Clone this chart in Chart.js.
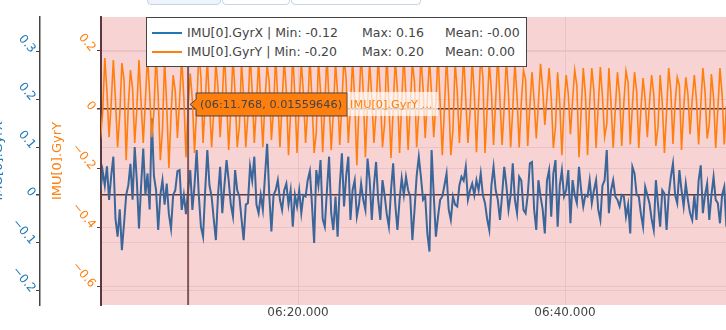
<!DOCTYPE html>
<html lang="en">
<head>
<meta charset="UTF-8">
<title>IMU[0] gyro</title>
<style>
  body {
    margin: 0;
    width: 726px;
    height: 330px;
    overflow: hidden;
    position: relative;
    background: #fff;
    font-family: 'DejaVu Sans', Verdana, sans-serif;
  }
  #wrap { position: absolute; left: -12px; top: 0; width: 738px; height: 330px; }
  .tab {
    position: absolute; top: -20px; height: 23px;
    border: 1px solid #c6d4ea; border-radius: 4px; background: #fff;
  }
  .tab.on { background: #eef4fc; }
  #legend {
    position: absolute; left: 146px; top: 17px; width: 381px; height: 50px;
    box-sizing: border-box; background: #fff; border: 1px solid #444;
    font-size: 12.5px; color: #444;
  }
  #legend .row { position: absolute; left: 0; width: 100%; height: 18px; }
  #legend .swatch { position: absolute; left: 5px; top: 8px; width: 30px; height: 2px; }
  #legend .txt { position: absolute; top: 0; line-height: 18px; white-space: pre; }
</style>
<script src="https://cdn.jsdelivr.net/npm/chart.js"></script>
</head>
<body>
<div class="tab on" style="left:147px;width:72px"></div>
<div class="tab" style="left:222px;width:66px"></div>
<div class="tab" style="left:291px;width:128px"></div>
<div id="wrap"><canvas id="gyro" width="738" height="330"></canvas></div>
<div id="legend"></div>

<script>
// sample clock (seconds), one sample every 160 ms
const t0 = 364.888;
const dt = 0.16;

const seriesNames = ['IMU[0].GyrX', 'IMU[0].GyrY'];
const seriesColors = ['#1f77b4', '#ff7f0e'];
const statMin = ['-0.12', '-0.20'];
const statMax = ['0.16', '0.20'];
const statMean = ['-0.00', '0.00'];

const gyrX = [
  0.02, 0.04, 0.01, 0.05, 0.02, 0.06, -0.01, 0.04, 0.08, -0.05,
  -0.087, -0.03, -0.115, -0.06, 0.0, 0.02, 0.065, -0.01, 0.10, 0.03,
  -0.07, 0.02, 0.097, 0.0, 0.045, -0.03, 0.16, 0.04, 0.01, -0.073,
  0.0, 0.031, -0.02, 0.024, -0.04, -0.07, 0.0, 0.01, 0.05, 0.052,
  -0.031, 0.0, -0.04, 0.01, 0.052, -0.031, 0.02, 0.094, 0.0, -0.066,
  -0.087, 0.01, 0.094, 0.02, -0.003, -0.05, -0.094, 0.0, 0.059, -0.038,
  0.02, 0.073, 0.03, -0.02, -0.045, 0.052, 0.01, -0.003, -0.05, -0.094,
  -0.02, -0.017, 0.06, 0.03, 0.08, -0.02, -0.038, 0.0, -0.031, 0.04,
  0.107, 0.0, -0.076, 0.0, 0.01, 0.031, -0.01, -0.031, 0.01, 0.024,
  -0.02, 0.01, -0.066, 0.0, -0.024, 0.01, -0.038, 0.0, -0.003, 0.031,
  0.05, -0.02, -0.1, 0.052, 0.02, 0.073, -0.05, -0.066, 0.01, 0.08,
  -0.038, -0.073, -0.003, -0.087, 0.02, 0.087, -0.024, 0.04, 0.08, -0.052,
  0.01, 0.031, -0.045, -0.02, 0.024, -0.01, -0.031, 0.076, 0.031, -0.052,
  0.02, 0.069, -0.01, -0.052, 0.031, 0.0, -0.04, -0.066, 0.01, 0.066,
  -0.02, -0.073, -0.01, 0.035, 0.0, 0.038, 0.01, -0.003, -0.094, -0.031,
  0.04, 0.08, 0.038, -0.01, -0.003, -0.08, -0.118, 0.094, 0.0, -0.087,
  -0.045, -0.01, -0.003, 0.02, 0.045, -0.03, -0.052, -0.003, -0.02, -0.024,
  0.02, 0.038, 0.03, 0.059, -0.01, 0.01, 0.024, 0.0, 0.031, 0.01,
  0.045, 0.0, -0.017, -0.05, -0.073, 0.02, 0.059, 0.01, -0.01, -0.052,
  0.0, 0.059, 0.02, -0.031, 0.0, 0.066, -0.01, -0.038, 0.038, 0.03,
  -0.031, -0.038, 0.0, 0.066, 0.069, -0.03, -0.073, 0.031, -0.003, -0.03,
  -0.08, 0.03, 0.052, -0.045, 0.045, 0.073, -0.066, 0.02, 0.052, -0.003,
  0.01, 0.052, -0.059, 0.031, 0.0, -0.017, 0.059, 0.01, -0.024, 0.0,
  -0.003, 0.031, -0.017, 0.01, 0.031, -0.03, -0.052, 0.02, 0.031, 0.094,
  -0.038, 0.01, 0.031, -0.003, -0.01, -0.024, 0.0, -0.003, -0.045, -0.02,
  -0.08, 0.059, 0.045, 0.0, -0.003, -0.04, -0.066, 0.017, 0.0, -0.017,
  -0.05, -0.073, 0.031, -0.02, -0.066, 0.01, 0.003, -0.073, 0.0, 0.038,
  0.066, 0.0, -0.017, 0.052, 0.01, -0.024, 0.024, -0.01, -0.038, -0.052,
  0.0, -0.052, 0.03, 0.062, -0.038, 0.0, 0.024, -0.052, 0.0, 0.038,
  -0.01, -0.017, -0.059, 0.0, 0.017, -0.066, 0.0
];

const gyrY = [
  0.15, 0.04, -0.10, -0.01, 0.173, 0.06, -0.095, 0.02,
  0.166, 0.03, -0.129, -0.02, 0.156, 0.10, -0.173, 0.01,
  0.132, 0.07, -0.115, 0.0, 0.166, 0.02, -0.115, 0.03,
  0.18, 0.05, -0.095, -0.01, 0.19, 0.04, -0.173, -0.07,
  0.17, 0.01, -0.20, -0.02, 0.115, 0.06, -0.098, 0.03,
  0.175, 0.04, -0.163, 0.01559646, 0.12, 0.03, -0.149, 0.0,
  0.19, 0.11, -0.115, 0.02, 0.17, 0.02, -0.129, -0.01,
  0.16, 0.07, -0.095, 0.03, 0.20, 0.03, -0.139, 0.0,
  0.18, 0.05, -0.129, -0.06, 0.16, 0.04, -0.129, -0.02,
  0.19, 0.06, -0.115, 0.01, 0.17, 0.02, -0.129, 0.03,
  0.15, 0.09, -0.105, 0.0, 0.18, 0.03, -0.129, 0.02,
  0.17, 0.06, -0.156, -0.01, 0.19, 0.04, -0.149, 0.02,
  0.16, 0.05, -0.115, 0.0, 0.18, 0.03, -0.149, -0.08,
  0.17, 0.06, -0.146, 0.01, 0.19, 0.02, -0.139, -0.01,
  0.16, 0.05, -0.122, 0.02, 0.18, 0.10, -0.115, 0.0,
  0.17, 0.03, -0.19, 0.01, 0.19, 0.06, -0.163, 0.02,
  0.16, 0.04, -0.115, -0.01, 0.18, 0.05, -0.129, -0.05,
  0.20, 0.02, -0.166, 0.0, 0.17, 0.06, -0.149, 0.02,
  0.19, 0.04, -0.139, 0.01, 0.16, 0.09, -0.129, -0.01,
  0.18, 0.07, -0.098, 0.03, 0.17, 0.05, -0.095, 0.02,
  0.19, 0.02, -0.156, 0.0, 0.18, 0.04, -0.156, -0.07,
  0.16, 0.06, -0.115, 0.02, 0.19, 0.03, -0.115, -0.01,
  0.17, 0.05, -0.146, 0.02, 0.18, 0.11, -0.149, 0.0,
  0.16, 0.06, -0.122, 0.03, 0.19, 0.03, -0.122, 0.01,
  0.17, 0.05, -0.129, 0.0, 0.16, 0.04, -0.13, 0.02,
  0.132, 0.10, -0.125, 0.01, 0.125, 0.03, -0.10, 0.02,
  0.153, 0.07, -0.054, 0.04, 0.139, 0.04, -0.132, -0.06,
  0.125, 0.02, -0.156, 0.01, 0.115, 0.05, -0.085, 0.03,
  0.132, 0.08, -0.163, -0.01, 0.139, 0.05, -0.156, 0.02,
  0.139, 0.06, -0.132, 0.01, 0.142, 0.04, -0.095, -0.05,
  0.139, 0.02, -0.132, 0.0, 0.125, 0.05, -0.125, 0.02,
  0.129, 0.09, -0.12, 0.01, 0.125, 0.06, -0.132, 0.0,
  0.105, 0.03, -0.095, 0.02, 0.115, 0.05, -0.125, -0.06,
  0.115, 0.02, -0.149, -0.01, 0.139, 0.06, -0.118, 0.02,
  0.108, 0.08, -0.139, 0.0, 0.108, 0.05, -0.085, 0.03,
  0.115, 0.03, -0.12, 0.01, 0.139, 0.06, -0.10, -0.05,
  0.119, 0.04, -0.132, 0.0, 0.139, 0.05, -0.12, 0.01,
  0.129
];

// hovered sample on GyrY
const hoverIndex = 43;

const times = gyrX.map((_, i) => t0 + i * dt);

function fmtTime(s) {
  const m = Math.floor(s / 60);
  const sec = (s - m * 60).toFixed(3);
  return String(m).padStart(2, '0') + ':' + sec.padStart(6, '0');
}
function fmtTick(v, dec) {
  if (Math.abs(v) < 1e-9) return '0';
  const s = Math.abs(v).toFixed(dec);
  return v < 0 ? '\u2212' + s : s;
}
const isZero = c => Math.abs(c.tick.value) < 1e-9;

// legend box
const legend = document.getElementById('legend');
seriesNames.forEach((name, i) => {
  const row = document.createElement('div');
  row.className = 'row';
  row.style.top = (6 + i * 19) + 'px';
  row.innerHTML =
    '<div class="swatch" style="background:' + seriesColors[i] + '"></div>' +
    '<span class="txt" style="left:40px">' + name + ' | Min: ' + statMin[i] + '</span>' +
    '<span class="txt" style="left:215px">Max: ' + statMax[i] + '</span>' +
    '<span class="txt" style="left:298px">Mean: ' + statMean[i] + '</span>';
  legend.appendChild(row);
});

const plotBg = {
  id: 'plotBg',
  beforeDraw(chart) {
    const {ctx, chartArea: a} = chart;
    ctx.save();
    ctx.fillStyle = '#f8d3d4';
    ctx.fillRect(a.left, a.top, a.right - a.left, a.bottom - a.top);
    ctx.restore();
  }
};

// spike line + hover label for the selected GyrY sample
const hoverLabel = {
  id: 'hoverLabel',
  afterDatasetsDraw(chart) {
    const {ctx, chartArea: a, scales} = chart;
    const t = times[hoverIndex], v = gyrY[hoverIndex];
    const px = scales.x.getPixelForValue(t);
    const py = scales.yY.getPixelForValue(v);
    ctx.save();
    ctx.strokeStyle = 'rgba(110,65,65,0.85)';
    ctx.lineWidth = 2;
    ctx.beginPath();
    ctx.moveTo(px, a.top);
    ctx.lineTo(px, a.bottom);
    ctx.stroke();

    ctx.font = '11.3px "DejaVu Sans"';
    ctx.textBaseline = 'middle';
    const text = '(' + fmtTime(t) + ', ' + v + ')';
    const w = ctx.measureText(text).width + 9;
    const h = 23;
    const bx = px + 8, by = py - h / 2;
    ctx.beginPath();
    ctx.moveTo(px + 2, py);
    ctx.lineTo(bx, py - 5);
    ctx.lineTo(bx, by);
    ctx.lineTo(bx + w, by);
    ctx.lineTo(bx + w, by + h);
    ctx.lineTo(bx, by + h);
    ctx.lineTo(bx, py + 5);
    ctx.closePath();
    ctx.fillStyle = '#ff7f0e';
    ctx.fill();
    ctx.strokeStyle = '#444';
    ctx.lineWidth = 1;
    ctx.stroke();
    ctx.fillStyle = '#444';
    ctx.fillText(text, bx + 4, py + 0.5);

    const name = seriesNames[1] + ' ...';
    const nw = ctx.measureText(name).width + 8;
    ctx.fillStyle = 'rgba(255,255,255,0.7)';
    ctx.fillRect(bx + w + 0.5, by - 1, nw, h + 1);
    ctx.fillStyle = '#ff7f0e';
    ctx.fillText(name, bx + w + 3, py + 0.5);
    ctx.restore();
  }
};

const gridPink = '#ebc3c4';
const zeroLine = '#5c3a3a';

new Chart(document.getElementById('gyro'), {
  type: 'line',
  data: {
    datasets: [
      {
        label: seriesNames[0],
        data: times.map((t, i) => ({x: t, y: gyrX[i]})),
        yAxisID: 'yX',
        borderColor: '#3b6699',
        borderWidth: 2,
        pointRadius: 0,
        tension: 0,
        order: 1
      },
      {
        label: seriesNames[1],
        data: times.map((t, i) => ({x: t, y: gyrY[i]})),
        yAxisID: 'yY',
        borderColor: '#ff7f0e',
        borderWidth: 1.6,
        pointRadius: 0,
        tension: 0,
        order: 0
      }
    ]
  },
  options: {
    responsive: false,
    animation: false,
    events: [],
    layout: {padding: {top: 17, right: 0, bottom: 0, left: 0}},
    plugins: {legend: {display: false}, tooltip: {enabled: false}},
    scales: {
      x: {
        type: 'linear',
        position: 'bottom',
        min: 365.243,
        max: 412.06,
        afterFit: s => { s.height = 25; },
        ticks: {
          stepSize: 20,
          includeBounds: false,
          padding: 1,
          maxRotation: 0,
          color: '#444',
          font: {family: 'DejaVu Sans', size: 12},
          callback: v => fmtTime(v)
        },
        grid: {color: gridPink, drawTicks: false},
        border: {display: false}
      },
      yX: {
        type: 'linear',
        position: 'left',
        weight: 2,
        min: -0.2295,
        max: 0.3715,
        afterFit: s => { s.width = 52; },
        title: {
          display: true,
          text: seriesNames[0],
          color: seriesColors[0],
          font: {family: 'DejaVu Sans', size: 13},
          padding: {top: 2.5, bottom: 0}
        },
        ticks: {
          stepSize: 0.1,
          includeBounds: false,
          minRotation: -50,
          padding: 3,
          color: seriesColors[0],
          font: {family: 'DejaVu Sans', size: 12},
          callback: v => fmtTick(v, 1)
        },
        grid: {
          color: c => isZero(c) ? zeroLine : gridPink,
          lineWidth: c => isZero(c) ? 1.5 : 1,
          tickLength: 4,
          tickColor: '#444'
        },
        border: {color: '#444', width: 1.5}
      },
      yY: {
        type: 'linear',
        position: 'left',
        weight: 1,
        min: -0.664,
        max: 0.312,
        afterFit: s => { s.width = 61; },
        title: {
          display: true,
          text: seriesNames[1],
          color: seriesColors[1],
          font: {family: 'DejaVu Sans', size: 13},
          padding: {top: 10, bottom: 0}
        },
        ticks: {
          stepSize: 0.2,
          includeBounds: false,
          minRotation: -50,
          padding: 4,
          color: seriesColors[1],
          font: {family: 'DejaVu Sans', size: 12},
          callback: v => fmtTick(v, 1)
        },
        grid: {
          color: c => isZero(c) ? zeroLine : gridPink,
          lineWidth: c => isZero(c) ? 1.5 : 1,
          tickLength: 4,
          tickColor: '#5c3a3a'
        },
        border: {color: '#5c3a3a', width: 2}
      }
    }
  },
  plugins: [plotBg, hoverLabel]
});
</script>
</body>
</html>
